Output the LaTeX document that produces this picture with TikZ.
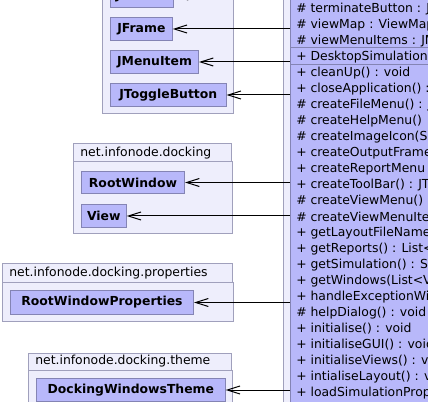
\documentclass[tikz,border=0pt]{standalone}
\usepackage{fontspec}
\setmainfont{DejaVu Sans}
\usetikzlibrary{arrows.meta}
\definecolor{pkgfill}{HTML}{EEEEFC}
\definecolor{clsfill}{HTML}{B8B8FA}
\definecolor{bord}{HTML}{A0A0BC}
\definecolor{clsbord}{HTML}{8484B4}
\tikzset{
 pkg/.style={draw=bord,fill=pkgfill,line width=0.75pt},
 cls/.style={draw=clsbord,fill=clsfill,line width=0.75pt,inner sep=0pt,anchor=north west,font=\fontsize{9.3pt}{11pt}\selectfont\bfseries},
 pkglabel/.style={anchor=west,inner sep=0pt,font=\fontsize{9.3pt}{11pt}\selectfont},
 member/.style={anchor=west,inner sep=0pt,font=\fontsize{9.3pt}{11pt}\selectfont},
 dep/.style={line width=0.75pt,-{Straight Barb[length=9.5pt,width=6pt]}},
}
\newcommand\clsnode[6]{\node[cls,minimum width={(#4-#2)*0.75pt},minimum height={(#5-#3)*0.75pt}] (#1) at (#2,#3) {#6};}
\begin{document}
\begin{tikzpicture}[x=0.75pt,y=-0.75pt]
\useasboundingbox (0,0) rectangle (428,402);
\clip (0,0) rectangle (428,402);
% packages
\draw[pkg] (102,-30) rectangle (233,114);
\draw[pkg] (73,144) rectangle (231,162);
\draw[pkg] (73,162) rectangle (232,234);
\node[pkglabel] (pdock) at (80,153) {net.infonode.docking};
\draw[pkg] (2,264) rectangle (232,283);
\draw[pkg] (2,283) rectangle (233,322);
\node[pkglabel] (pprop) at (9,273.5) {net.infonode.docking.properties};
\draw[pkg] (28,353) rectangle (231,370);
\draw[pkg] (28,370) rectangle (232,430);
\node[pkglabel] (ptheme) at (35,361.5) {net.infonode.docking.theme};
\draw[pkg] (283,-30) rectangle (460,430);
% classes
\clsnode{jbutton}{110}{-16}{173}{7}{JButton}
\clsnode{jframe}{110}{17}{171.7}{40}{JFrame}
\clsnode{jmenuitem}{110}{50}{198}{73}{JMenuItem}
\clsnode{jtoggle}{110}{83}{225.6}{106}{JToggleButton}
\clsnode{rootwindow}{81}{171}{184}{193}{RootWindow}
\clsnode{view}{81}{204}{125.7}{227}{View}
\clsnode{rwprops}{10}{290}{193}{314}{RootWindowProperties}
\clsnode{theme}{36}{378}{224.7}{401}{DockingWindowsTheme}
\node[cls,minimum width=150pt,minimum height=400pt] (main) at (290,-30) {};
\draw[draw=clsbord,line width=0.75pt] (290,48) -- (440,48);
\draw[draw=clsbord,line width=0.75pt] (290,65) -- (440,65);
\foreach \t [count=\i] in {
 {\# terminateButton : J},
 {\# viewMap : ViewMap},
 {\# viewMenuItems : JM},
 {+ DesktopSimulation},
 {+ cleanUp() : void},
 {+ closeApplication() :},
 {\# createFileMenu() : J},
 {\# createHelpMenu()},
 {\# createImageIcon(S},
 {+ createOutputFrame},
 {+ createReportMenu},
 {+ createToolBar() : JT},
 {\# createViewMenu() :},
 {\# createViewMenuIte},
 {+ getLayoutFileName},
 {+ getReports() : List<},
 {+ getSimulation() : Si},
 {+ getWindows(List<V},
 {+ handleExceptionWi},
 {\# helpDialog() : void},
 {+ initialise() : void},
 {+ initialiseGUI() : void},
 {+ initialiseViews() : vo},
 {+ intialiseLayout() : v},
 {+ loadSimulationProp}}
 \node[member] (m\i) at (296,-7+16*\i) {\t};
% dependencies
\foreach \c in {jbutton,jframe,jmenuitem,jtoggle,rootwindow,view,rwprops,theme}
 \draw[dep] (\c.east -| main.west) -- (\c.east);
\end{tikzpicture}
\end{document}
